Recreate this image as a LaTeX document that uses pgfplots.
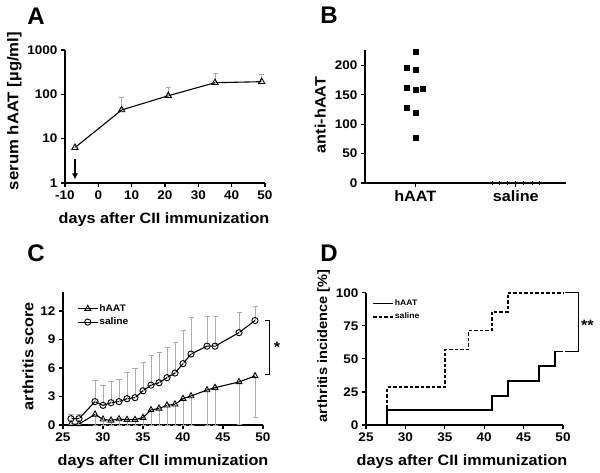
\documentclass[border=0pt]{standalone}
\usepackage{fontspec}
\setmainfont{Liberation Sans}[FakeStretch=1.08]
\newfontfamily\plainfont{Liberation Sans}
\usepackage{pgfplots}
\pgfplotsset{compat=1.18}
\usetikzlibrary{arrows.meta}

\newcommand\tickfont{\bfseries\fontsize{12.5bp}{14bp}\selectfont}
\newcommand\labfont{\bfseries\fontsize{15bp}{17bp}\selectfont}
\newcommand\panelfont{\plainfont\bfseries\fontsize{24bp}{26bp}\selectfont}

\pgfplotsset{
  gp/.style={
    scale only axis, anchor=south west,
    axis x line*=bottom, axis y line*=left,
    axis line style={line width=1.6bp, -},
    tick style={line width=1.2bp, black},
    major tick length=4bp,
    tick align=outside,
    ticklabel style={font=\tickfont},
    /pgf/number format/assume math mode=true,
    clip=false,
  },
  error bars/ebar/.style={error bar style={gray!65, line width=0.9bp},
    error mark options={rotate=90, mark size=2.5bp, gray!65, line width=0.9bp}},
}

\begin{document}
\begin{tikzpicture}
\useasboundingbox (0,0) rectangle (600bp,-473bp);

% ---------------- Panel A ----------------
\begin{axis}[gp, at={(65bp,-183bp)}, width=200bp, height=133bp,
  xmin=-10, xmax=50, ymode=log, ymin=1, ymax=1000,
  ytick={1,10,100,1000}, yticklabels={1,10,100,1000}, yminorticks=false,
  xtick={-10,0,...,50}]
\addplot[black, line width=1.1bp, mark=triangle, mark size=3.6bp,
  mark options={solid, fill=white, line width=0.9bp},
  error bars/.cd, y dir=plus, y explicit, ebar]
  coordinates {
  (-7,6.3) +- (0,0)
  (7,44.4) +- (0,39.6)
  (21,93) +- (0,51)
  (35,183) +- (0,115)
  (49,193) +- (0,84)
  };
\draw[-{Latex[length=6bp,width=6bp]}, line width=1.3bp] (axis cs:-7,3.4) -- (axis cs:-7,1.2);
\end{axis}

% ---------------- Panel B ----------------
\begin{axis}[gp, at={(365bp,-183bp)}, width=201bp, height=133bp,
  xmin=0, xmax=2, ymin=0, ymax=226,
  ytick={0,50,...,200}, xtick={0.5,1.5}, xticklabels={hAAT,saline},
  xticklabel style={font=\labfont}]
\addplot[only marks, mark=square*, mark size=2.5bp] coordinates {
  (0.5,223.8) (0.417,195.5) (0.5,193.2) (0.417,162.6) (0.5,158.6)
  (0.577,160.3) (0.417,128) (0.5,119) (0.5,77)
  };
\addplot[only marks, mark=|, mark size=1.6bp, mark options={line width=0.8bp}] coordinates {
  (1.263,0) (1.339,0) (1.416,0) (1.5,0) (1.58,0) (1.667,0) (1.74,0)
  };
\end{axis}

% ---------------- Panel C ----------------
\begin{axis}[gp, at={(63bp,-425bp)}, width=200bp, height=133bp,
  xmin=25, xmax=50, ymin=0, ymax=14,
  ytick={0,3,...,12}, xtick={25,30,...,50},
  legend style={draw=none, fill=none, at={(axis description cs:0.07,0.915)},
    anchor=north west, inner sep=0pt, row sep=3bp,
    font=\bfseries\fontsize{9.5bp}{11bp}\selectfont,
    nodes={inner sep=1bp}},
  legend cell align=left,
  legend image code/.code={\draw[mark repeat=2, mark phase=2] plot coordinates {(0bp,0bp) (10bp,0bp) (20bp,0bp)};}]
\addplot[black, line width=1.1bp, mark=triangle, mark size=3.4bp,
  mark options={solid, fill=white, line width=0.9bp},
  error bars/.cd, y dir=minus, y explicit, ebar]
  coordinates {
  (26,0.1) +- (0,0) (27,0.1) +- (0,0) (29,1.12) +- (0,1.12) (30,0.6) +- (0,0.6)
  (31,0.49) +- (0,0.49) (32,0.63) +- (0,0.63) (33,0.56) +- (0,0.56) (34,0.56) +- (0,0.56)
  (35,0.77) +- (0,0.77) (36,1.58) +- (0,1.58) (37,1.75) +- (0,1.75) (38,2.07) +- (0,2.07)
  (39,2.18) +- (0,2.18) (40,2.77) +- (0,2.77) (41,3.05) +- (0,3.05) (43,3.68) +- (0,3.68)
  (44,3.93) +- (0,3.93) (47,4.53) +- (0,4.43) (49,5.16) +- (0,4.4)
  };
\addlegendentry{hAAT}
\addplot[black, line width=1.1bp, mark=o, mark size=3.1bp,
  mark options={solid, fill=white, line width=0.9bp},
  error bars/.cd, y dir=plus, y explicit, ebar]
  coordinates {
  (26,0.67) +- (0,0.4) (27,0.67) +- (0,0.4) (29,2.46) +- (0,2.24) (30,2.07) +- (0,2.07)
  (31,2.35) +- (0,2.25) (32,2.46) +- (0,2.34) (33,2.77) +- (0,2.73) (34,2.88) +- (0,3.05)
  (35,3.6) +- (0,2.96) (36,4.2) +- (0,3.13) (37,4.45) +- (0,3.15) (38,4.98) +- (0,3.16)
  (39,5.47) +- (0,3.2) (40,6.46) +- (0,3.5) (41,7.47) +- (0,3.83) (43,8.3) +- (0,3.17)
  (44,8.3) +- (0,3.17) (47,9.72) +- (0,2.1) (49,11.0) +- (0,1.46)
  };
\addlegendentry{saline}
\draw[line width=1bp] (axis cs:50.25,11.0) -- (axis cs:50.8,11.0) -- (axis cs:50.8,5.3) -- (axis cs:50.25,5.3);
\node[font=\labfont] at (axis cs:51.75,8.2) {*};
\end{axis}

% ---------------- Panel D ----------------
\begin{axis}[gp, at={(366bp,-425bp)}, width=197bp, height=132.3bp,
  xmin=25, xmax=50, ymin=0, ymax=100,
  ytick={0,25,...,100}, xtick={25,30,...,50},
  legend style={draw=none, fill=none, at={(axis description cs:0.03,0.955)},
    anchor=north west, inner sep=0pt, row sep=4bp,
    font=\bfseries\fontsize{8bp}{9.5bp}\selectfont,
    nodes={inner sep=1bp}},
  legend cell align=left,
  legend image code/.code={\draw (0bp,0bp) -- (20bp,0bp);}]
\addplot[const plot, black, line width=1.8bp] coordinates {
  (27.7,0) (27.7,11.1) (41,22.2) (43,33.3) (47,44.4) (49,55.6) (50,55.6)
  };
\addlegendentry{hAAT}
\addplot[const plot, black, line width=1.8bp, dash pattern=on 3.5bp off 2bp] coordinates {
  (27.7,0) (27.7,28.6) (35,57.1) (38,71.4) (41,85.7) (43,100) (50,100)
  };
\addlegendentry{saline}
\draw[line width=1bp] (axis cs:50.25,100) -- (axis cs:51.95,100) -- (axis cs:51.95,55.6) -- (axis cs:50.25,55.6);
\node[font=\labfont] at (axis cs:53.1,75.5) {**};
\end{axis}

% ---------------- Labels ----------------
\node[font=\labfont, anchor=base] at (164bp,-223.5bp) {days after CII immunization};
\node[font=\labfont, anchor=base] at (163bp,-465.5bp) {days after CII immunization};
\node[font=\labfont, anchor=base] at (462bp,-465.5bp) {days after CII immunization};

\node[font=\bfseries\fontsize{15.5bp}{17bp}\selectfont, rotate=90, anchor=base] at (18.3bp,-111bp) {serum hAAT [µg/ml]};
\node[font=\labfont, rotate=90, anchor=base] at (325.7bp,-115bp) {anti-hAAT};
\node[font=\labfont, rotate=90, anchor=base] at (33.3bp,-356bp) {arthritis score};
\node[font=\bfseries\fontsize{13.5bp}{15bp}\selectfont, rotate=90, anchor=base] at (327bp,-346bp) {arthritis incidence [\%]};

\node[font=\panelfont, anchor=base] at (36bp,-24bp) {A};
\node[font=\panelfont, anchor=base] at (329bp,-23bp) {B};
\node[font=\panelfont, anchor=base] at (36bp,-261bp) {C};
\node[font=\panelfont, anchor=base] at (329bp,-261bp) {D};
\end{tikzpicture}
\end{document}
